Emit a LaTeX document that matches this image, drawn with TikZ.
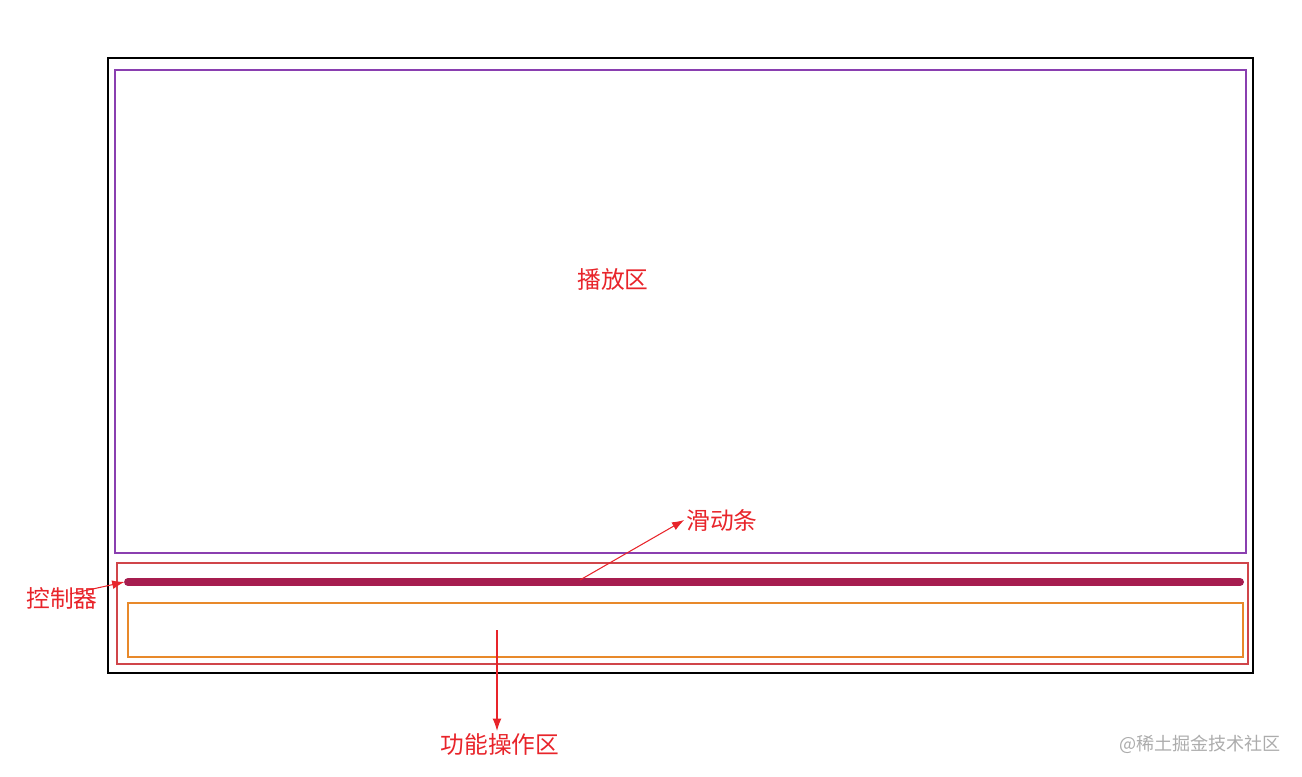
\documentclass[tikz,border=0pt]{standalone}
\usepackage{fontspec}
\usetikzlibrary{arrows.meta}
\newfontfamily\cjk{Noto Sans CJK SC}
\definecolor{playpurple}{HTML}{8A3FB0}
\definecolor{ctrlred}{HTML}{D0454A}
\definecolor{funcorange}{HTML}{E8892A}
\definecolor{barmaroon}{HTML}{A61D4F}
\definecolor{labelred}{HTML}{E8242A}
\tikzset{
  lbl/.style={text=labelred, font=\cjk\fontsize{13.5}{16}\selectfont, inner sep=1pt},
  ptr/.style={draw=labelred, -{Latex[length=7pt,width=5pt]}, line width=0.6pt}
}
\begin{document}
\begin{tikzpicture}[x=0.02cm,y=-0.02cm]
    \useasboundingbox (0,0) rectangle (1302,777);
    % Frames
    \draw[line width=1.1pt] (108,58) rectangle (1253,673);
    \draw[playpurple, line width=0.9pt] (115,70) rectangle (1246,553);
    \draw[ctrlred, line width=0.8pt] (117,563) rectangle (1248,664);
    \draw[funcorange, line width=0.9pt] (128,603) rectangle (1243,657);
    % Slider bar
    \draw[barmaroon, line width=4.5pt, line cap=round] (128,582) coordinate (barL) -- (1240,582) coordinate (barR);
    % Labels
    \node[lbl] (play) at (613,279) {播放区};
    \node[lbl] (slider) at (722,520) {滑动条};
    \node[lbl] (ctrl) at (62,598) {控制器};
    \node[lbl] (func) at (500,744) {功能操作区};
    \node[text=gray!65, font=\cjk\fontsize{10.3}{12}\selectfont] (mark) at (1200,744) {@稀土掘金技术社区};
    % Pointers
    \coordinate (ctrlTail) at (70,594);
    \coordinate (sliderTail) at (580,580);
    \coordinate (funcTail) at (497,630);
    \draw[ptr] (ctrlTail) -- ([xshift=-2pt]barL);
    \draw[ptr] (sliderTail) -- (slider.west);
    \draw[ptr] (funcTail) -- (func.north -| funcTail);
\end{tikzpicture}
\end{document}
